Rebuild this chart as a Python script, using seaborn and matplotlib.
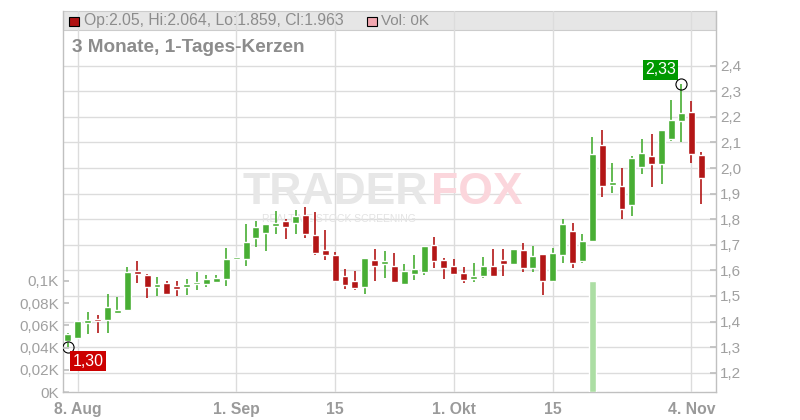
import matplotlib
matplotlib.use("Agg")
import matplotlib.pyplot as plt
import matplotlib.patches as mpatches
from matplotlib.ticker import FuncFormatter
import numpy as np
import seaborn as sns

sns.set_theme(style="white")
plt.rcParams['font.family'] = ['Liberation Sans', 'DejaVu Sans']

# Tageskerzen (Handelstage 7. Aug - 5. Nov)
opens = [1.325, 1.337, 1.395, 1.411, 1.407, 1.435, 1.446, 1.598, 1.582, 1.536,
         1.551, 1.539, 1.536, 1.546, 1.546, 1.555, 1.567, 1.646, 1.646, 1.728,
         1.747, 1.775, 1.793, 1.786, 1.817, 1.738, 1.680, 1.660, 1.578, 1.558,
         1.536, 1.641, 1.626, 1.617, 1.547, 1.587, 1.595, 1.699, 1.641, 1.617,
         1.589, 1.567, 1.579, 1.617, 1.641, 1.626, 1.680, 1.610, 1.664, 1.560,
         1.661, 1.754, 1.637, 1.715, 2.090, 1.934, 1.930, 1.856, 2.004, 2.047,
         2.016, 2.114, 2.184, 2.219, 2.050]
highs = [1.356, 1.404, 1.437, 1.426, 1.508, 1.496, 1.613, 1.638, 1.586, 1.574,
         1.558, 1.558, 1.566, 1.593, 1.582, 1.582, 1.687, 1.652, 1.781, 1.793,
         1.781, 1.832, 1.799, 1.836, 1.848, 1.828, 1.758, 1.672, 1.605, 1.598,
         1.648, 1.684, 1.676, 1.668, 1.625, 1.660, 1.695, 1.730, 1.648, 1.643,
         1.613, 1.628, 1.652, 1.684, 1.684, 1.684, 1.707, 1.695, 1.664, 1.687,
         1.801, 1.785, 1.742, 2.121, 2.149, 2.020, 2.000, 2.047, 2.114, 2.133,
         2.149, 2.266, 2.330, 2.262, 2.064]
lows = [1.300, 1.333, 1.352, 1.356, 1.356, 1.435, 1.446, 1.551, 1.493, 1.501,
        1.508, 1.501, 1.504, 1.524, 1.536, 1.552, 1.540, 1.643, 1.618, 1.693,
        1.676, 1.743, 1.721, 1.743, 1.728, 1.662, 1.639, 1.556, 1.528, 1.524,
        1.509, 1.560, 1.571, 1.556, 1.547, 1.564, 1.583, 1.610, 1.567, 1.583,
        1.552, 1.556, 1.571, 1.579, 1.579, 1.626, 1.595, 1.595, 1.505, 1.560,
        1.630, 1.610, 1.630, 1.715, 1.888, 1.904, 1.802, 1.814, 1.977, 1.926,
        1.938, 2.106, 2.103, 2.020, 1.859]
closes = [1.351, 1.402, 1.406, 1.403, 1.457, 1.445, 1.594, 1.587, 1.536, 1.547,
          1.509, 1.528, 1.547, 1.551, 1.566, 1.570, 1.644, 1.650, 1.711, 1.770,
          1.781, 1.785, 1.771, 1.813, 1.743, 1.668, 1.660, 1.558, 1.543, 1.532,
          1.648, 1.618, 1.637, 1.556, 1.598, 1.605, 1.695, 1.638, 1.610, 1.587,
          1.564, 1.578, 1.617, 1.579, 1.626, 1.684, 1.610, 1.656, 1.560, 1.668,
          1.781, 1.630, 1.715, 2.055, 1.930, 1.946, 1.841, 2.039, 2.059, 2.016,
          2.149, 2.188, 2.215, 2.055, 1.963]
# Volumen in Tausend Stück
volumes_k = [0, 0, 0, 0, 0, 0, 0, 0, 0, 0,
             0, 0, 0, 0, 0, 0, 0, 0, 0, 0,
             0, 0, 0, 0, 0, 0, 0, 0, 0, 0,
             0, 0, 0, 0, 0, 0, 0, 0, 0, 0,
             0, 0, 0, 0, 0, 0, 0, 0, 0, 0,
             0, 0, 0, 0.1, 0, 0, 0, 0, 0, 0,
             0, 0, 0, 0, 0]

tick_idx = [1, 17, 27, 39, 49, 63]
tick_labels = ["8. Aug", "1. Sep", "15", "1. Okt", "15", "4. Nov"]
price_ticks = [1.2, 1.3, 1.4, 1.5, 1.6, 1.7, 1.8, 1.9, 2.0, 2.1, 2.2, 2.3, 2.4]
vol_ticks = [0, 0.02, 0.04, 0.06, 0.08, 0.1]

GREEN = '#48ae34'
RED = '#b31616'
GRID = '#dcdcdc'
SPINE = '#c0c0c0'
LABEL = '#a0a0a0'

o = np.array(opens); h = np.array(highs); l = np.array(lows); c = np.array(closes)
x = np.arange(len(o))
colors = [GREEN if ci >= oi else RED for oi, ci in zip(o, c)]
bottoms = np.minimum(o, c)
heights = np.maximum(np.abs(c - o), 0.008)

fig = plt.figure(figsize=(8, 4.2), dpi=100)
ax = fig.add_axes([63/800, 28/420, 653/800, 381/420])
ax_vol = ax.twinx()

def fx(px):
    return (px - 63) / 653

def fy(py):
    return (392 - py) / 381

# Kerzen
ax.vlines(x, l, h, colors=colors, lw=1.2, zorder=2)
ax.bar(x, heights, bottom=bottoms, width=0.7, color=colors, zorder=3)

ax.set_xlim(-0.5, 65.5)
ax.set_ylim(1.1246, 2.614)
ax.set_axisbelow(True)
ax.set_xticks(tick_idx, tick_labels)
ax.set_yticks(price_ticks)
ax.yaxis.set_major_formatter(FuncFormatter(lambda v, p: f"{v:.1f}".replace('.', ',')))
ax.grid(True, color=GRID, lw=1.0)
ax.tick_params(axis='y', direction='in', length=4, color=SPINE, labelcolor=LABEL,
               labelsize=11, pad=3, right=True, left=False, labelright=True, labelleft=False)
ax.tick_params(axis='x', direction='out', length=4, color=SPINE, labelcolor='#9a9a9a',
               labelsize=11.3, pad=3)
for t in ax.get_xticklabels():
    t.set_fontweight('bold')
for side in ['left', 'right', 'bottom']:
    ax.spines[side].set_color(SPINE)
    ax.spines[side].set_linewidth(1.0)
ax.spines['top'].set_visible(False)

# Volumen (linke Achse)
ax_vol.bar(x, volumes_k, width=0.7, color='#acdea4', zorder=2)
ax_vol.set_ylim(0, 381 / 1110)
ax_vol.set_yticks(vol_ticks)
ax_vol.yaxis.set_major_formatter(FuncFormatter(lambda v, p: f"{v:g}".replace('.', ',') + "K"))
ax_vol.grid(False)
ax_vol.tick_params(axis='y', direction='in', length=4, color=SPINE, labelcolor=LABEL,
                   labelsize=11, pad=3, left=True, right=False, labelleft=True, labelright=False)
for s in ax_vol.spines.values():
    s.set_visible(False)

# Kopfzeile
ax.add_patch(mpatches.Rectangle((0, fy(30)), 1, fy(11) - fy(30), transform=ax.transAxes,
                                fc='#e6e6e6', ec='#cccccc', lw=0.8, zorder=0.3, clip_on=False))
ax.add_patch(mpatches.Rectangle((fx(68.5), fy(26)), 10/653, 9.5/381, transform=ax.transAxes,
                                fc='#b01212', ec='black', lw=0.8, zorder=4, clip_on=False))
ax.text(fx(84), fy(21), f"Op:{opens[-1]:.2f}, Hi:{highs[-1]:.3f}, Lo:{lows[-1]:.3f}, Cl:{closes[-1]:.3f}",
        transform=ax.transAxes, va='center', ha='left', fontsize=11.3, color='#8c8c8c', zorder=4)
ax.add_patch(mpatches.Rectangle((fx(366.5), fy(26)), 10/653, 9.5/381, transform=ax.transAxes,
                                fc='#f2a7b0', ec='black', lw=0.8, zorder=4, clip_on=False))
ax.text(fx(381), fy(21), "Vol: 0K", transform=ax.transAxes, va='center', ha='left',
        fontsize=11, color='#8c8c8c', zorder=4)
ax.text(fx(72), fy(47), "3 Monate, 1-Tages-Kerzen", transform=ax.transAxes, va='center',
        ha='left', fontsize=13.7, fontweight='bold', color='#8c8c8c', zorder=4)

# Wasserzeichen
ax.text(fx(428), fy(192), "TRADER", transform=ax.transAxes, ha='right', va='center',
        fontsize=32, fontweight='bold', color='#e7e7e7', zorder=0.6)
ax.text(fx(431), fy(192), "FOX", transform=ax.transAxes, ha='left', va='center',
        fontsize=32, fontweight='bold', color='#fbd6dc', zorder=0.6)
ax.text(fx(339), fy(219), "REALTIME STOCK SCREENING", transform=ax.transAxes, ha='center',
        va='center', fontsize=7.5, color='#e3e3e3', zorder=0.6)

# Tief / Hoch markieren
lo_i = int(np.argmin(l))
hi_i = int(np.argmax(h))
ax.plot([lo_i], [l[lo_i]], marker='o', ms=8, mfc='none', mec='black', mew=0.8, zorder=6)
ax.plot([hi_i], [h[hi_i]], marker='o', ms=8, mfc='none', mec='black', mew=0.8, zorder=6)
ax.annotate(f"{l[lo_i]:.2f}".replace('.', ','), xy=(lo_i, l[lo_i]), xytext=(14.5, -10),
            textcoords='offset points', ha='center', va='center', color='white', fontsize=11.5,
            bbox=dict(boxstyle='square,pad=0.15', fc='#cc0000', ec='none'), zorder=7)
ax.annotate(f"{h[hi_i]:.2f}".replace('.', ','), xy=(hi_i, h[hi_i]), xytext=(-15, 10),
            textcoords='offset points', ha='center', va='center', color='white', fontsize=11.5,
            bbox=dict(boxstyle='square,pad=0.15', fc='#009900', ec='none'), zorder=7)

fig.savefig('out.png', dpi=100)
plt.close(fig)
